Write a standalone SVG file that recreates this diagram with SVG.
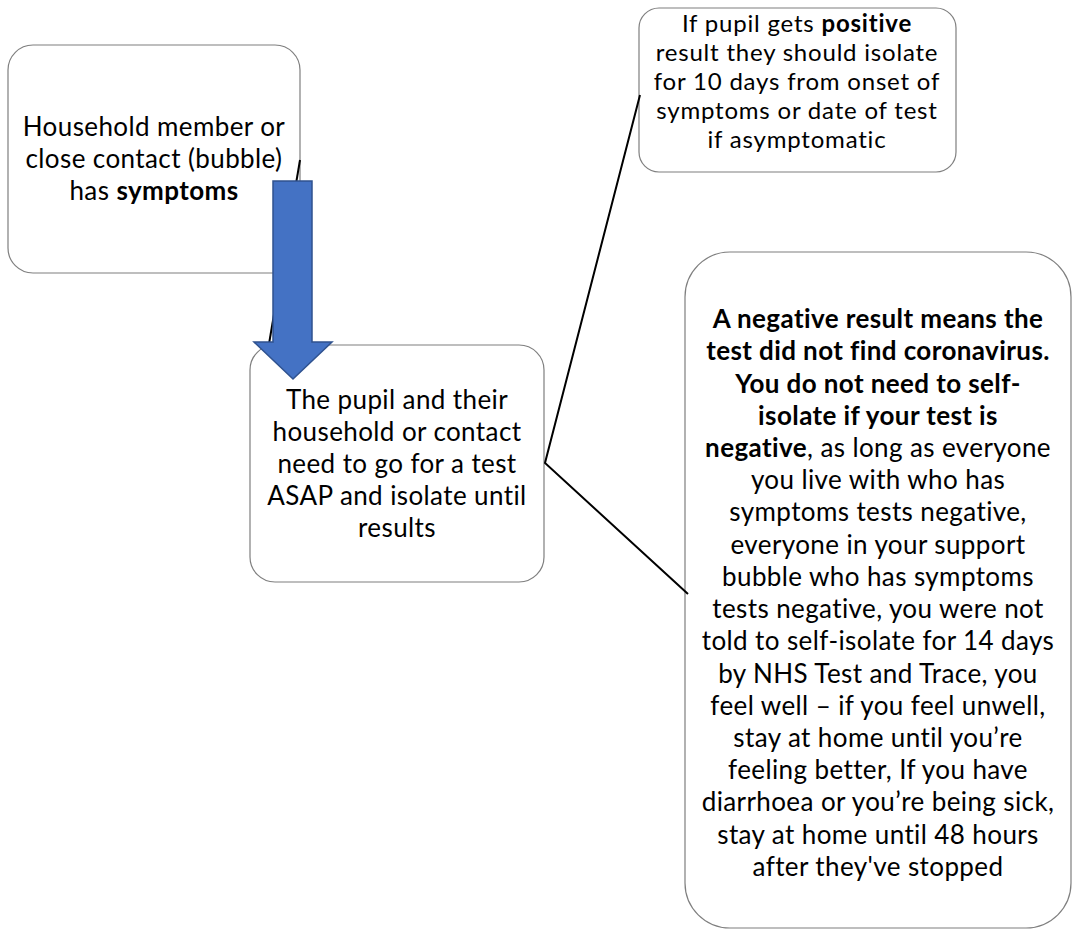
<svg xmlns="http://www.w3.org/2000/svg" width="1073" height="931" viewBox="0 0 1073 931">
<style>
.box{fill:#ffffff;stroke:#7f7f7f;stroke-width:1.2}
.t{font-family:Lato,"Open Sans","Liberation Sans",sans-serif;font-size:26px;letter-spacing:0.4px;fill:#000;text-anchor:middle}
.t3{font-size:24px;letter-spacing:0.8px}
.b{font-weight:bold}
.conn{fill:none;stroke:#000;stroke-width:2}
.arrow{fill:#4472C4;stroke:#2F528F;stroke-width:1.5}
</style>
<rect width="1073" height="931" fill="#ffffff"/>
<g id="node-household">
<rect class="box" x="8" y="45" width="292" height="228" rx="25"/>
<text class="t"><tspan x="154" y="136">Household member or</tspan><tspan x="154" y="168">close contact (bubble)</tspan><tspan x="154" y="200">has <tspan class="b">symptoms</tspan></tspan></text>
</g>
<g id="node-test">
<rect class="box" x="250" y="345" width="294" height="237" rx="25"/>
<text class="t"><tspan x="397" y="409">The pupil and their</tspan><tspan x="397" y="441">household or contact</tspan><tspan x="397" y="473">need to go for a test</tspan><tspan x="397" y="505">ASAP and isolate until</tspan><tspan x="397" y="537">results</tspan></text>
</g>
<g id="node-positive">
<rect class="box" x="639" y="8" width="317" height="164" rx="20"/>
<text class="t t3"><tspan x="797" y="32">If pupil gets <tspan class="b">positive</tspan></tspan><tspan x="797" y="61">result they should isolate</tspan><tspan x="797" y="90">for 10 days from onset of</tspan><tspan x="797" y="119">symptoms or date of test</tspan><tspan x="797" y="148">if asymptomatic</tspan></text>
</g>
<g id="node-negative">
<rect class="box" x="685" y="252" width="386" height="676" rx="45"/>
<text class="t"><tspan class="b" x="878" y="328">A negative result means the</tspan><tspan class="b" x="878" y="360.2">test did not find coronavirus.</tspan><tspan class="b" x="878" y="392.5">You do not need to self-</tspan><tspan class="b" x="878" y="424.7">isolate if your test is</tspan><tspan x="878" y="456.9"><tspan class="b">negative</tspan>, as long as everyone</tspan><tspan x="878" y="489.1">you live with who has</tspan><tspan x="878" y="521.4">symptoms tests negative,</tspan><tspan x="878" y="553.6">everyone in your support</tspan><tspan x="878" y="585.8">bubble who has symptoms</tspan><tspan x="878" y="618">tests negative, you were not</tspan><tspan x="878" y="650.3">told to self-isolate for 14 days</tspan><tspan x="878" y="682.5">by NHS Test and Trace, you</tspan><tspan x="878" y="714.7">feel well – if you feel unwell,</tspan><tspan x="878" y="746.9">stay at home until you’re</tspan><tspan x="878" y="779.2">feeling better, If you have</tspan><tspan x="878" y="811.4">diarrhoea or you’re being sick,</tspan><tspan x="878" y="843.6">stay at home until 48 hours</tspan><tspan x="878" y="876">after they've stopped</tspan></text>
</g>
<g id="connectors">
<line class="conn" x1="300" y1="160" x2="269" y2="344"/>
<polyline class="conn" points="640,95 545,463 688,594"/>
<polygon class="arrow" points="273,181 312,181 312,342 332,342 293,379 254,342 273,342"/>
</g>
</svg>
